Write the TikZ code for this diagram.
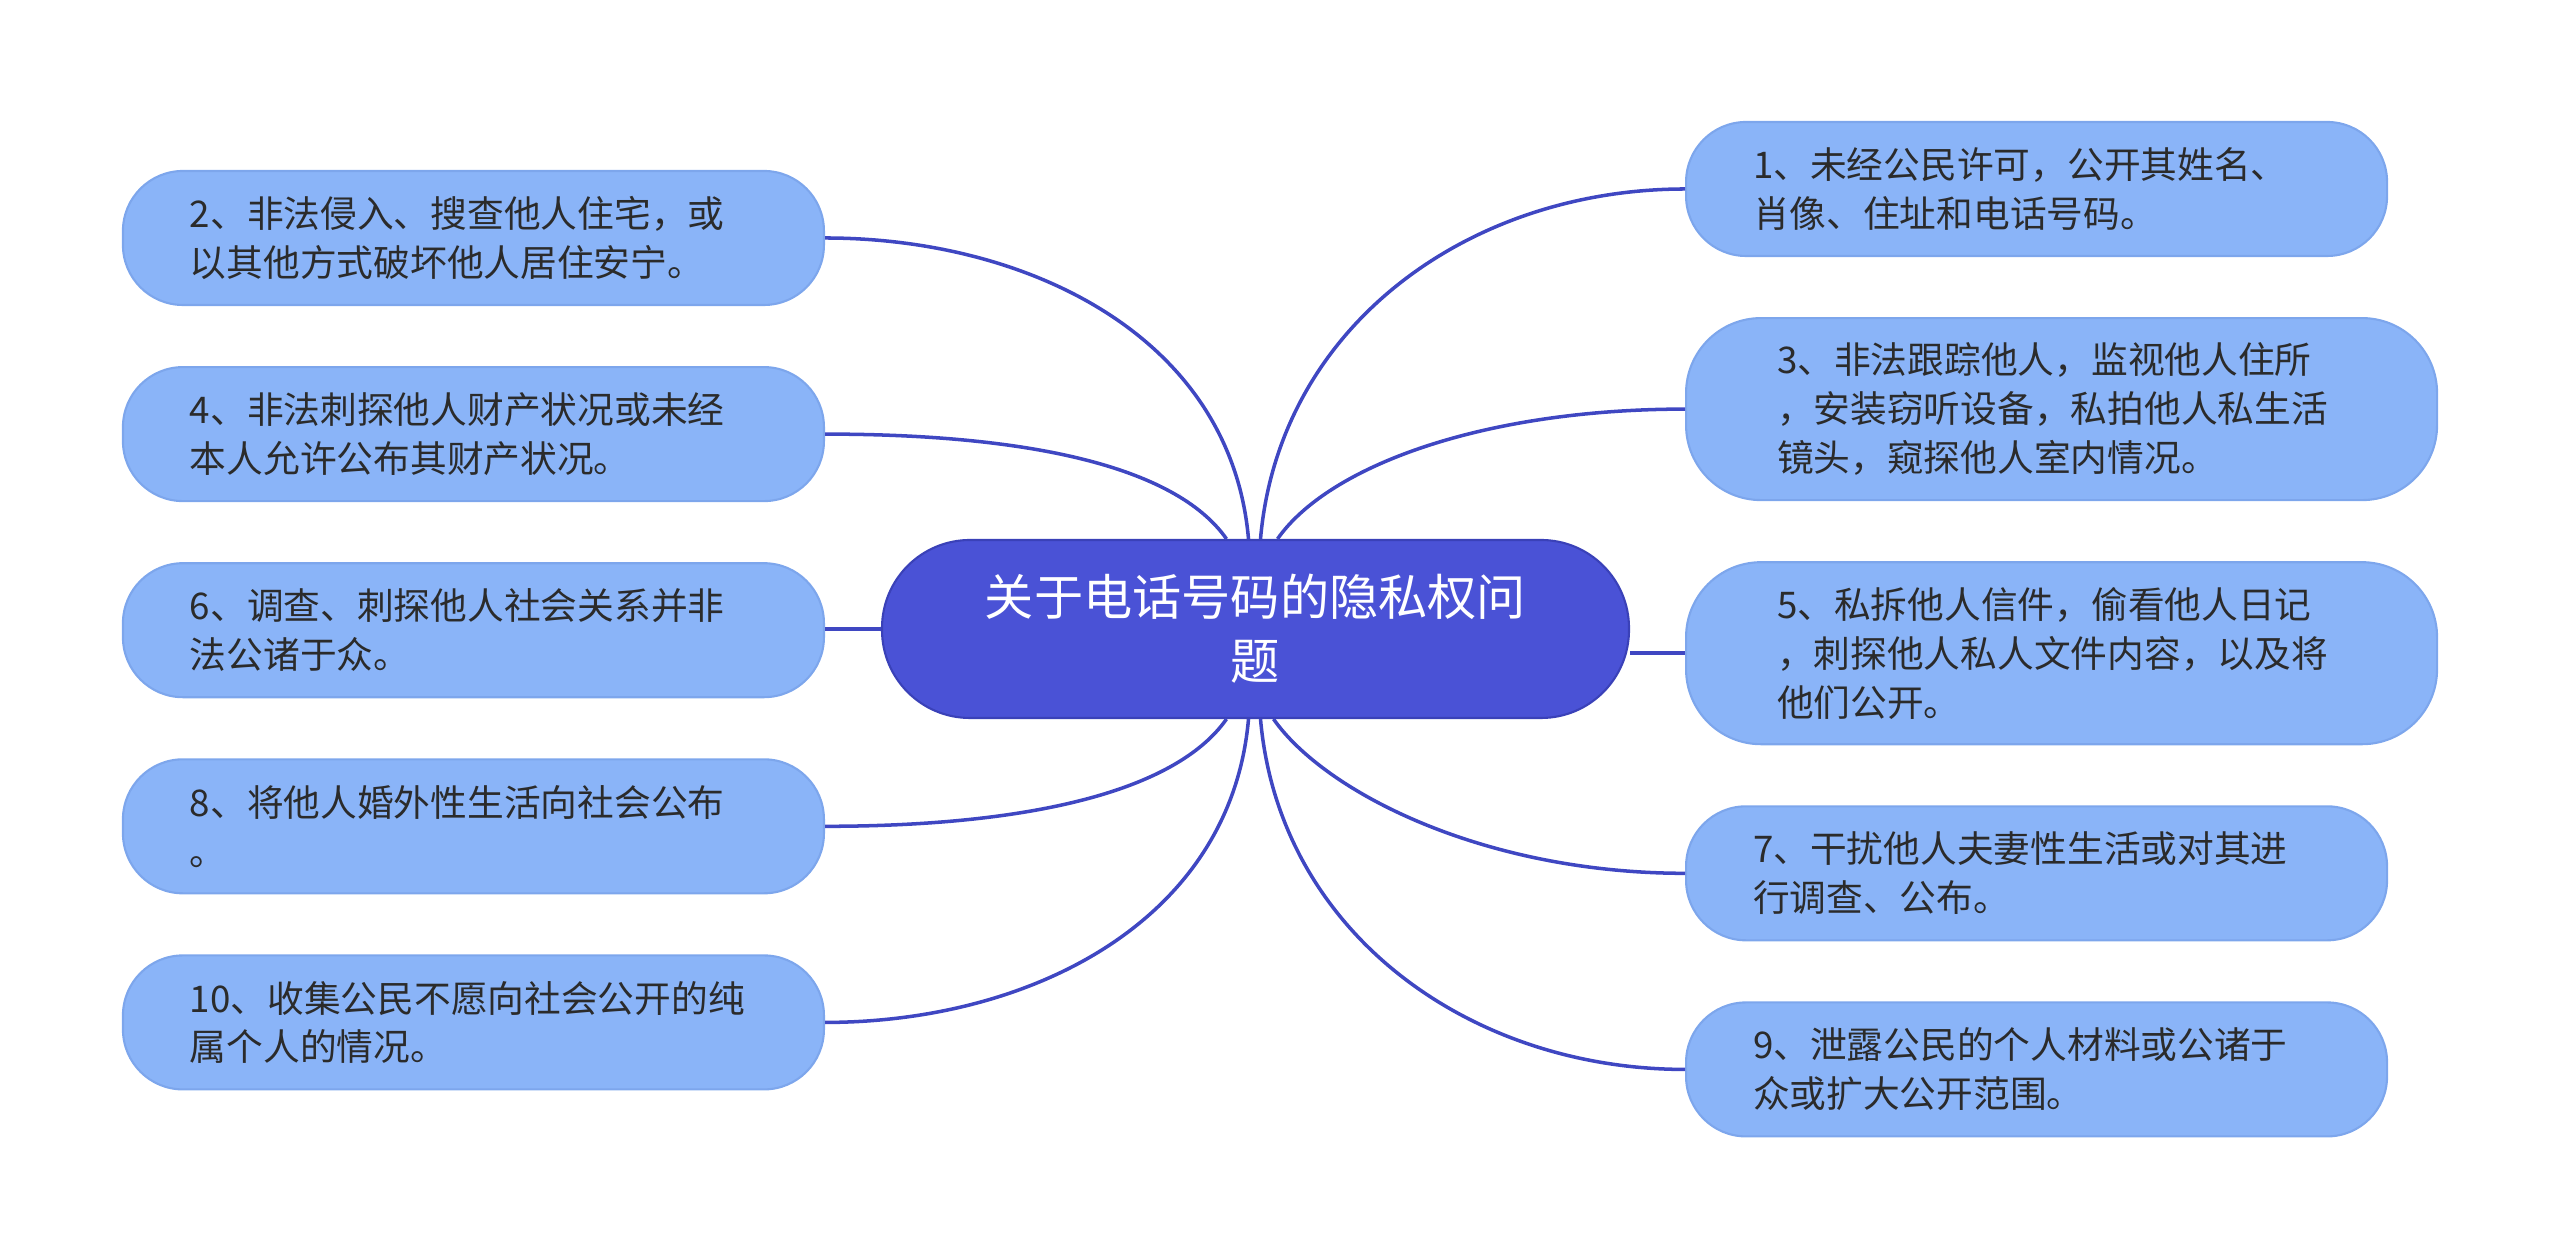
\documentclass[tikz,border=0pt]{standalone}
\usepackage{fontspec}
\setmainfont{Noto Sans CJK SC}
\usepackage{xcolor}
\usetikzlibrary{positioning}

\definecolor{hubfill}{HTML}{4A52D6}
\definecolor{hubedge}{HTML}{3A41B8}
\definecolor{leaffill}{HTML}{8AB4F8}
\definecolor{leafedge}{HTML}{7DA6EC}
\definecolor{linkblue}{HTML}{3F47C2}
\definecolor{leaftext}{HTML}{2B2B2B}

\begin{document}
\begin{tikzpicture}[
    node distance=0.6cm,
    hub/.style={rectangle, rounded corners=0.88cm, draw=hubedge, line width=0.6pt, fill=hubfill, text=white,
                minimum width=7.47cm, minimum height=1.78cm, align=center,
                font=\fontsize{14pt}{18.2pt}\selectfont},
    leaf/.style={rectangle, rounded corners=0.6cm, draw=leafedge, line width=0.6pt, fill=leaffill, text=leaftext,
                 text width=5.67cm, inner xsep=0.67cm, inner ysep=0pt, minimum height=1.34cm, align=left,
                 font=\fontsize{10.45pt}{13.9pt}\selectfont},
    tallleaf/.style={leaf, rounded corners=0.75cm, text width=5.69cm, inner xsep=0.91cm, minimum height=1.82cm},
    link/.style={draw=linkblue, line width=1pt}
]
    \useasboundingbox (0,0) rectangle (25.6,12.59);

    \node[hub] (topic) at (12.555,6.30) {关于电话号码的隐私权问\\题};

    % left column
    \node[leaf, anchor=east] (i2) at (8.25,10.21) {2、非法侵入、搜查他人住宅，或\\以其他方式破坏他人居住安宁。};
    \node[leaf, below=of i2] (i4) {4、非法刺探他人财产状况或未经\\本人允许公布其财产状况。};
    \node[leaf, below=of i4] (i6) {6、调查、刺探他人社会关系并非\\法公诸于众。};
    \node[leaf, below=of i6] (i8) {8、将他人婚外性生活向社会公布\\。};
    \node[leaf, below=of i8] (i10) {10、收集公民不愿向社会公开的纯\\属个人的情况。};

    % right column
    \node[leaf, anchor=west] (i1) at (16.85,10.70) {1、未经公民许可，公开其姓名、\\肖像、住址和电话号码。};
    \node[tallleaf, below=of i1.south west, anchor=north west] (i3) {3、非法跟踪他人，监视他人住所\\，安装窃听设备，私拍他人私生活\\镜头，窥探他人室内情况。};
    \node[tallleaf, below=of i3.south west, anchor=north west] (i5) {5、私拆他人信件，偷看他人日记\\，刺探他人私人文件内容，以及将\\他们公开。};
    \node[leaf, below=of i5.south west, anchor=north west] (i7) {7、干扰他人夫妻性生活或对其进\\行调查、公布。};
    \node[leaf, below=of i7.south west, anchor=north west] (i9) {9、泄露公民的个人材料或公诸于\\众或扩大公开范围。};

    \draw[link] ([xshift=-0.07cm]topic.north) to[out=95, in=0] (i2.east);
    \draw[link] ([xshift=-0.29cm]topic.north) .. controls +(125:0.9) and +(2.0,0) .. (i4.east);
    \draw[link] (topic.west) -- (topic.west -| i6.east);
    \draw[link] ([xshift=-0.29cm]topic.south) .. controls +(-125:0.9) and +(2.0,0) .. (i8.east);
    \draw[link] ([xshift=-0.07cm]topic.south) to[out=-95, in=0] (i10.east);

    \draw[link] ([xshift=0.05cm]topic.north) to[out=85, in=180] (i1.west);
    \draw[link] ([xshift=0.22cm]topic.north) .. controls +(55:0.9) and +(-2.0,0) .. (i3.west);
    \draw[link] (i5.west) -- (i5.west -| topic.east);
    \draw[link] ([xshift=0.18cm]topic.south) .. controls +(-55:0.9) and +(-2.0,0) .. (i7.west);
    \draw[link] ([xshift=0.05cm]topic.south) to[out=-85, in=180] (i9.west);
\end{tikzpicture}
\end{document}
